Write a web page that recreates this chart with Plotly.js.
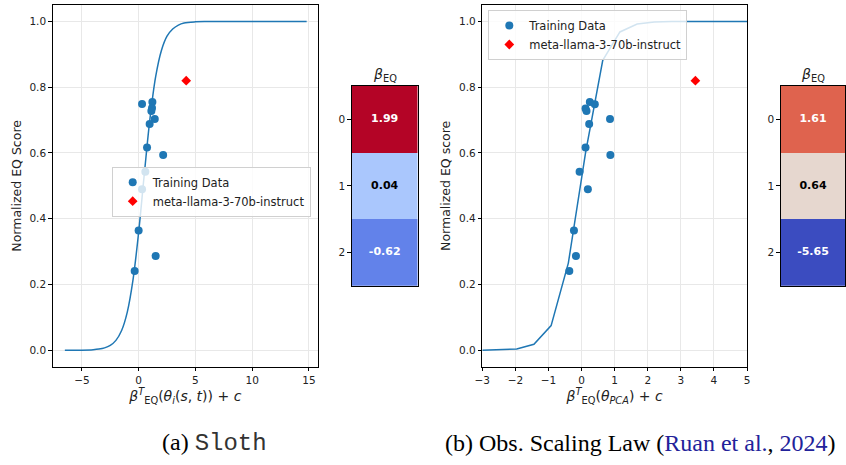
<!DOCTYPE html>
<html>
<head>
<meta charset="utf-8">
<script src="https://cdn.plot.ly/plotly-3.0.1.min.js"></script>
<style>html,body{margin:0;padding:0;background:#fff;}#chart{width:846px;height:465px;}</style>
</head>
<body>
<div id="chart"></div>
<script>
// ---- (a) Sloth ----
const slothCurveX = [-6.5,-5,-4,-3.5,-3,-2.5,-2,-1.5,-1,-0.5,0,0.5,1,1.5,2,2.5,3,3.5,4,5,6,7,10,14.8];
const slothCurveY = [0.0001,0.0004,0.0017,0.0035,0.0072,0.0148,0.030,0.060,0.116,0.213,0.359,0.536,0.705,0.832,0.911,0.955,0.977,0.989,0.995,0.9987,0.9997,1,1,1];
const slothTrainX = [0.3,1.21,1.18,1.12,1.42,0.97,0.74,2.16,0.59,0.3,0.0,-0.35,1.5];
const slothTrainY = [0.749,0.755,0.737,0.728,0.703,0.688,0.617,0.594,0.543,0.49,0.364,0.241,0.287];
const slothLlamaX = [4.19];
const slothLlamaY = [0.82];
const slothBetaRows = [0,1,2];
const slothBeta = [1.99,0.04,-0.62];

// ---- (b) Observational Scaling Law ----
const obsCurveX = [-3,-2.48,-1.96,-1.44,-0.92,-0.40,0.12,0.64,1.16,1.68,2.20,2.72,3.24,3.76,4.28,4.80,5.32];
const obsCurveY = [0,0.001,0.004,0.018,0.075,0.265,0.60,0.882,0.968,0.992,0.998,1,1,1,1,1,1];
const obsTrainX = [0.12,0.15,0.25,0.40,0.86,0.23,0.12,0.87,-0.06,0.19,-0.23,-0.17,-0.37];
const obsTrainY = [0.735,0.728,0.755,0.748,0.703,0.688,0.617,0.594,0.543,0.49,0.364,0.287,0.241];
const obsLlamaX = [3.44];
const obsLlamaY = [0.82];
const obsBetaRows = [0,1,2];
const obsBeta = [1.61,0.64,-5.65];

const yTicks = [0,0.2,0.4,0.6,0.8,1.0];
const slothXTicks = [-5,0,5,10,15];
const obsXTicks = [-3,-2,-1,0,1,2,3,4,5];

const BLUE = '#1f77b4';
const FONT = 'DejaVu Sans, sans-serif';

function fmt(v){ return v.toFixed(2); }

const traces = [
  {x: slothCurveX, y: slothCurveY, xaxis:'x', yaxis:'y', mode:'lines', line:{color:BLUE, width:1.5, shape:'spline'}, showlegend:false, hoverinfo:'skip'},
  {x: slothTrainX, y: slothTrainY, xaxis:'x', yaxis:'y', mode:'markers', name:'Training Data', marker:{color:BLUE, size:8}, legend:'legend'},
  {x: slothLlamaX, y: slothLlamaY, xaxis:'x', yaxis:'y', mode:'markers', name:'meta-llama-3-70b-instruct', marker:{color:'#ff0000', symbol:'diamond', size:7.5}, legend:'legend'},
  {z: slothBeta.map(v=>[v]), x:[0], y: slothBetaRows, xaxis:'x2', yaxis:'y2', type:'heatmap', showscale:false,
   zmin: Math.min(...slothBeta), zmax: Math.max(...slothBeta),
   colorscale:[[0,'#6282ea'],[(slothBeta[1]-Math.min(...slothBeta))/(Math.max(...slothBeta)-Math.min(...slothBeta)),'#aac7fd'],[1,'#b40426']], hoverinfo:'skip'},
  {x: slothBetaRows.map(()=>0), y: slothBetaRows, xaxis:'x2', yaxis:'y2', mode:'text', text: slothBeta.map(v=>'<b>'+fmt(v)+'</b>'),
   textfont:{family:FONT, size:11, color:['#ffffff','#000000','#ffffff']}, showlegend:false, hoverinfo:'skip'},

  {x: obsCurveX, y: obsCurveY, xaxis:'x3', yaxis:'y3', mode:'lines', line:{color:BLUE, width:1.5}, showlegend:false, hoverinfo:'skip'},
  {x: obsTrainX, y: obsTrainY, xaxis:'x3', yaxis:'y3', mode:'markers', name:'Training Data', marker:{color:BLUE, size:8}, legend:'legend2'},
  {x: obsLlamaX, y: obsLlamaY, xaxis:'x3', yaxis:'y3', mode:'markers', name:'meta-llama-3-70b-instruct', marker:{color:'#ff0000', symbol:'diamond', size:7.5}, legend:'legend2'},
  {z: obsBeta.map(v=>[v]), x:[0], y: obsBetaRows, xaxis:'x4', yaxis:'y4', type:'heatmap', showscale:false,
   zmin: Math.min(...obsBeta), zmax: Math.max(...obsBeta),
   colorscale:[[0,'#3b4cc0'],[(obsBeta[1]-Math.min(...obsBeta))/(Math.max(...obsBeta)-Math.min(...obsBeta)),'#e6d7cf'],[1,'#df634e']], hoverinfo:'skip'},
  {x: obsBetaRows.map(()=>0), y: obsBetaRows, xaxis:'x4', yaxis:'y4', mode:'text', text: obsBeta.map(v=>'<b>'+fmt(v)+'</b>'),
   textfont:{family:FONT, size:11, color:['#ffffff','#000000','#ffffff']}, showlegend:false, hoverinfo:'skip'}
];

const tickFont = {family:FONT, size:10.5, color:'#222'};
const titleFont = {family:FONT, size:12.5, color:'#222'};
function scatterX(domain, range, ticks, title){
  return {domain, range, tickvals:ticks, ticktext:ticks.map(t=>t<0?'\u2212'+Math.abs(t):String(t)),
    showline:true, mirror:true, linecolor:'#000', linewidth:1, ticks:'outside', ticklen:3.5, tickcolor:'#000',
    showgrid:true, gridcolor:'#e8e8e8', gridwidth:1, zeroline:false, tickfont:tickFont,
    title:{text:title, font:{family:FONT, size:14, color:'#222'}, standoff:4}};
}
function scatterY(domain, anchor, title){
  return {domain, anchor, range:[-0.05,1.05], tickvals:yTicks, ticktext:yTicks.map(t=>t.toFixed(1)),
    showline:true, mirror:true, linecolor:'#000', linewidth:1, ticks:'outside', ticklen:3.5, tickcolor:'#000',
    showgrid:true, gridcolor:'#e8e8e8', gridwidth:1, zeroline:false, tickfont:tickFont,
    title:{text:title, font:titleFont, standoff:5}};
}
function heatX(domain, anchor){
  return {domain, anchor, range:[-0.5,0.5], showticklabels:false, ticks:'', showgrid:false, zeroline:false,
    showline:true, mirror:true, linecolor:'#000', linewidth:1};
}
function heatY(domain, anchor, rows){
  return {domain, anchor, range:[2.5,-0.5], tickvals:rows, ticktext:rows.map(String), ticks:'outside', ticklen:3.5, tickcolor:'#000',
    showgrid:false, zeroline:false, showline:true, mirror:true, linecolor:'#000', linewidth:1, tickfont:tickFont};
}

const yDom = [1-366.7/465, 1-5/465];
const hDom = [1-285.7/465, 1-86/465];

const layout = {
  width:846, height:465, margin:{l:0,r:0,t:0,b:0}, paper_bgcolor:'#fff', plot_bgcolor:'#fff',
  font:{family:FONT, color:'#222'},
  xaxis: scatterX([52.7/846, 318/846], [-7.57,15.8], slothXTicks,
     '<i>β</i><sup><i>T</i></sup><sub>EQ</sub>(<i>θ</i><sub><i>i</i></sub>(<i>s</i>, <i>t</i>)) + <i>c</i>'),
  yaxis: scatterY(yDom, 'x', 'Normalized EQ Score'),
  xaxis2: heatX([351.7/846, 417.7/846], 'y2'),
  yaxis2: heatY(hDom, 'x2', slothBetaRows),
  xaxis3: Object.assign(scatterX([482.3/846, 747/846], [-3,5], obsXTicks,
     '<i>β</i><sup><i>T</i></sup><sub>EQ</sub>(<i>θ</i><sub><i>PCA</i></sub>) + <i>c</i>'), {anchor:'y3'}),
  yaxis3: scatterY(yDom, 'x3', 'Normalized EQ score'),
  xaxis4: heatX([780.7/846, 845.3/846], 'y4'),
  yaxis4: heatY(hDom, 'x4', obsBetaRows),
  legend: {x:111.7/846, y:1-166.7/465, xanchor:'left', yanchor:'top', bgcolor:'rgba(255,255,255,0.8)',
    bordercolor:'#d0d0d0', borderwidth:1, font:{family:FONT, size:11.5, color:'#222'}, itemwidth:30, tracegroupgap:0},
  legend2: {x:488.3/846, y:1-10/465, xanchor:'left', yanchor:'top', bgcolor:'rgba(255,255,255,0.8)',
    bordercolor:'#d0d0d0', borderwidth:1, font:{family:FONT, size:11.5, color:'#222'}, itemwidth:30, tracegroupgap:0},
  annotations: [
    {xref:'x2 domain', yref:'y2 domain', x:0.5, y:1, yanchor:'bottom', xanchor:'center', yshift:0, showarrow:false,
     text:'<i>β</i><sub>EQ</sub>', font:{family:FONT, size:14, color:'#222'}},
    {xref:'x4 domain', yref:'y4 domain', x:0.5, y:1, yanchor:'bottom', xanchor:'center', yshift:0, showarrow:false,
     text:'<i>β</i><sub>EQ</sub>', font:{family:FONT, size:14, color:'#222'}},
    {xref:'paper', yref:'paper', x:215/846, y:1-443/465, xanchor:'center', yanchor:'middle', showarrow:false,
     text:'(a) <span style="font-family:Liberation Mono;color:#333">Sloth</span>', font:{family:'Liberation Serif, serif', size:24, color:'#000'}},
    {xref:'paper', yref:'paper', x:640/846, y:1-443/465, xanchor:'center', yanchor:'middle', showarrow:false,
     text:'(b) Obs. Scaling Law (<span style="color:#22229a">Ruan et al.</span>, <span style="color:#22229a">2024</span>)', font:{family:'Liberation Serif, serif', size:24, color:'#000'}}
  ]
};

Plotly.newPlot('chart', traces, layout, {staticPlot:true, displayModeBar:false});
</script>
</body>
</html>
